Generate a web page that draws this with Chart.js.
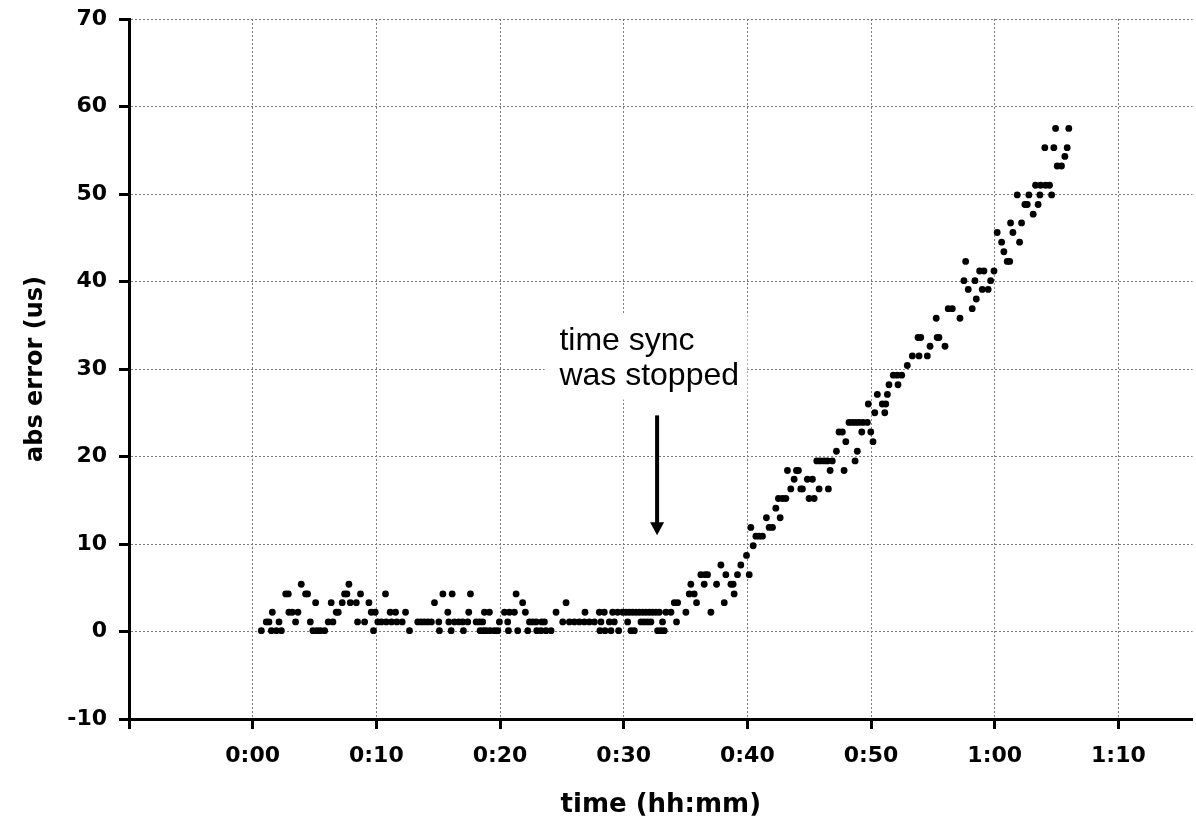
<!DOCTYPE html>
<html>
<head>
<meta charset="utf-8">
<script src="https://cdn.jsdelivr.net/npm/chart.js@4/dist/chart.umd.min.js"></script>
<style>
  html, body { margin: 0; padding: 0; background: #ffffff; }
  #wrap { width: 1196px; height: 821px; }
</style>
</head>
<body>
<div id="wrap"><canvas id="c" width="1196" height="821"></canvas></div>
<script>
// time since start, in minutes
const times = [
  0.70, 1.10, 1.32, 1.51, 1.59, 1.91, 2.13, 2.32, 2.67, 2.88, 2.93, 3.20, 3.47, 3.66, 3.93, 4.28, 4.44, 4.66, 4.87, 5.09,
  5.20, 5.47, 5.82, 6.11, 6.35, 6.49, 6.76, 6.92, 7.24, 7.43, 7.62, 7.78, 7.89, 8.38, 8.48, 8.72, 9.05, 9.40, 9.59, 9.77,
  9.91, 10.12, 10.40, 10.74, 10.80, 11.12, 11.23, 11.55, 11.66, 12.09, 12.36, 12.68, 13.35, 13.62, 13.89, 14.16,
  14.45, 14.70, 15.05, 15.10, 15.38, 15.78, 15.86, 16.05, 16.13, 16.32, 16.67, 16.99, 17.04, 17.39, 17.47, 17.61,
  18.07, 18.34, 18.39, 18.60, 18.66, 18.74, 18.88, 19.14, 19.20, 19.55, 19.82, 19.95, 20.36, 20.62, 20.68, 20.76,
  21.16, 21.30, 21.43, 21.83, 22.05, 22.24, 22.38, 22.64, 22.92, 22.97, 23.32, 23.37, 23.59, 23.72, 24.13, 24.53,
  25.07, 25.34, 25.61, 26.01, 26.41, 26.82, 26.87, 27.22, 27.63, 28.03, 28.08, 28.16, 28.43, 28.49, 28.84, 28.97,
  29.11, 29.24, 29.51,
  29.59, 29.91, 30.18, 30.32, 30.45, 30.59, 30.72, 30.86, 30.99, 31.26, 31.40, 31.53, 31.66, 31.80, 31.93, 32.07,
  32.20, 32.34, 32.61, 32.74, 32.88, 33.01, 33.14, 33.28, 33.41, 33.82, 34.09, 34.27, 34.36, 35.03, 35.30, 35.43,
  35.70, 35.89, 36.24, 36.51, 36.59, 36.78, 37.05, 37.51, 37.86, 38.13, 38.26, 38.67, 38.85, 38.93, 39.20, 39.47,
  39.93, 40.15, 40.28, 40.47, 40.69, 40.95, 41.22, 41.54,
  41.76, 42.03, 42.30, 42.51, 42.65, 42.84, 43.11, 43.24, 43.51, 43.78, 43.97, 44.13, 44.32, 44.45, 44.85, 44.99,
  45.26, 45.40, 45.61, 45.80, 45.88, 46.20, 46.47, 46.55, 46.69, 46.87, 47.20, 47.41, 47.68, 47.82, 47.96, 48.22,
  48.49, 48.71, 48.76, 48.89, 49.03, 49.25, 49.35, 49.70, 49.78, 49.98, 50.16, 50.30, 50.51, 50.91, 51.11, 51.19, 51.32,
  51.45, 51.80, 52.12, 52.18, 52.48, 52.93, 53.34, 53.80, 53.88, 54.02, 54.55, 54.77, 55.27, 55.35, 55.49, 55.98,
  56.24, 56.57, 57.19, 57.51, 57.65, 57.86, 58.18, 58.40, 58.51, 58.78, 58.99, 59.13, 59.47, 59.67, 59.94,
  60.20, 60.56, 60.74, 61.01, 61.21, 61.28, 61.47, 61.82, 62.01, 62.17, 62.44, 62.63, 62.76, 63.11, 63.30, 63.51,
  63.65, 63.71, 64.05, 64.11, 64.43, 64.60, 64.78, 64.92, 65.05, 65.40, 65.67, 65.86, 65.99
];

// absolute error in microseconds
const errors = [
  0.1, 1.1, 1.1, 0.1, 2.2, 0.1, 1.1, 0.1, 4.3, 4.3, 2.2, 2.2, 1.1, 2.2, 5.4, 4.3, 4.3, 1.1, 0.1, 3.3,
  0.1, 0.1, 0.1, 1.1, 3.3, 1.1, 2.2, 2.2, 3.3, 4.3, 4.3, 5.4, 3.3, 3.3, 1.1, 4.3, 1.1, 3.3, 2.2, 0.1,
  2.2, 1.1, 1.1, 4.3, 1.1, 2.2, 1.1, 2.2, 1.1, 1.1, 2.2, 0.1, 1.1, 1.1, 1.1, 1.1,
  1.1, 3.3, 1.1, 0.1, 4.3, 2.2, 1.1, 0.1, 4.3, 1.1, 1.1, 1.1, 0.1, 1.1, 2.2, 4.3,
  1.1, 1.1, 0.1, 1.1, 0.1, 2.2, 0.1, 2.2, 0.1, 0.1, 0.1, 1.1, 2.2, 1.1, 0.1, 2.2,
  2.2, 4.3, 0.1, 3.3, 2.2, 0.1, 1.1, 1.1, 1.1, 0.1, 0.1, 1.1, 1.1, 0.1, 0.1, 2.2,
  1.1, 3.3, 1.1, 1.1, 1.1, 1.1, 2.2, 1.1, 1.1, 2.2, 0.1, 1.1, 2.2, 0.1, 1.1, 0.1,
  2.2, 1.1, 2.2,
  0.1, 2.2, 2.2, 1.1, 2.2, 0.1, 2.2, 0.1, 2.2, 2.2, 1.1, 2.2, 1.1, 2.2, 1.1, 2.2,
  1.1, 2.2, 2.2, 0.1, 2.2, 0.1, 1.1, 0.1, 2.2, 2.2, 3.3, 1.1, 3.3, 2.2, 4.3, 5.4,
  4.3, 3.3, 6.5, 5.4, 6.5, 6.5, 2.2, 5.4, 7.6, 3.3, 6.5, 5.4, 5.4, 4.3, 6.5, 7.6,
  8.7, 6.5, 11.9, 9.8, 10.9, 10.9, 10.9, 13.0,
  11.9, 11.9, 14.1, 15.2, 13.0, 15.2, 15.2, 18.4, 16.3, 17.4, 18.4, 18.4, 16.3, 16.3, 17.4, 15.2,
  17.4, 15.2, 19.5, 16.3, 19.5, 19.5, 19.5, 16.3, 18.4, 19.5, 20.6, 22.8, 22.8, 18.4, 21.7, 23.9,
  23.9, 19.5, 23.9, 20.6, 23.9, 22.8, 23.9, 23.9, 26.0, 22.8, 21.7, 25.0, 27.1, 26.0, 25.0, 26.0, 27.1,
  28.2, 29.3, 29.3, 28.2, 29.3, 30.4, 31.5, 33.6, 31.5, 33.6, 31.5, 32.6, 35.8, 33.6, 33.6, 32.6,
  36.9, 36.9, 35.8, 40.1, 42.3, 39.1, 36.9, 40.1, 38.0, 41.2, 39.1, 41.2, 39.1, 40.1, 41.2,
  45.6, 44.5, 43.4, 42.3, 42.3, 46.7, 45.6, 49.9, 44.5, 46.7, 48.8, 48.8, 49.9, 47.7, 51.0, 48.8,
  49.9, 51.0, 55.3, 51.0, 51.0, 49.9, 55.3, 57.5, 53.2, 53.2, 54.3, 55.3, 57.5
];

// tick values on the axes
const xTickValues = [-10, 0, 10, 20, 30, 40, 50, 60, 70];
const yTickValues = [-10, 0, 10, 20, 30, 40, 50, 60, 70];

const xAxisTitle = 'time (hh:mm)';
const yAxisTitle = 'abs error (us)';
const noteLines = ['time sync', 'was stopped'];

// annotation placement in data units (minutes, us)
const noteBox = { x0: 23.6, x1: 40.0, y0: 26.5, y1: 36.2 };
const noteText = { x: 24.8, y: [32.2, 28.2] };
const noteArrow = { x: 32.7, yFrom: 24.7, yTo: 11.0 };

function fmtTime(v) {
  if (v < 0) return '';
  const h = Math.floor(v / 60);
  const m = Math.round(v - h * 60);
  return h + ':' + (m < 10 ? '0' + m : m);
}

const points = times.map((t, i) => ({ x: t, y: errors[i] }));

const annotationPlugin = {
  id: 'note',
  afterDatasetsDraw(chart) {
    const { ctx, scales } = chart;
    const xs = scales.x, ys = scales.y;
    ctx.save();
    const bx0 = xs.getPixelForValue(noteBox.x0), bx1 = xs.getPixelForValue(noteBox.x1);
    const by0 = ys.getPixelForValue(noteBox.y1), by1 = ys.getPixelForValue(noteBox.y0);
    ctx.fillStyle = '#ffffff';
    ctx.fillRect(bx0, by0, bx1 - bx0, by1 - by0);
    ctx.fillStyle = '#000000';
    ctx.font = '32px "Liberation Sans", Arial, sans-serif';
    ctx.textAlign = 'left';
    ctx.textBaseline = 'alphabetic';
    noteLines.forEach((line, i) => {
      ctx.fillText(line, xs.getPixelForValue(noteText.x), ys.getPixelForValue(noteText.y[i]));
    });
    const ax = xs.getPixelForValue(noteArrow.x);
    const ay0 = ys.getPixelForValue(noteArrow.yFrom);
    const ay1 = ys.getPixelForValue(noteArrow.yTo);
    ctx.strokeStyle = '#000000';
    ctx.lineWidth = 4;
    ctx.beginPath();
    ctx.moveTo(ax, ay0);
    ctx.lineTo(ax, ay1 - 10);
    ctx.stroke();
    ctx.beginPath();
    ctx.moveTo(ax - 7, ay1 - 13);
    ctx.lineTo(ax + 7, ay1 - 13);
    ctx.lineTo(ax, ay1);
    ctx.closePath();
    ctx.fill();
    ctx.restore();
  }
};

const tickFont = { family: '"DejaVu Sans", Verdana, sans-serif', size: 22, weight: 'bold' };

new Chart(document.getElementById('c'), {
  type: 'scatter',
  data: {
    datasets: [{
      data: points,
      pointStyle: 'circle',
      pointRadius: 3.4,
      pointHoverRadius: 3.4,
      pointBackgroundColor: '#000000',
      pointBorderWidth: 0,
      showLine: false
    }]
  },
  options: {
    responsive: false,
    animation: false,
    devicePixelRatio: 1,
    layout: { padding: { top: 19, left: 0, right: 0, bottom: 0 } },
    plugins: { legend: { display: false }, tooltip: { enabled: false } },
    scales: {
      x: {
        type: 'linear',
        position: 'bottom',
        min: -10,
        max: 76,
        afterBuildTicks(scale) { scale.ticks = xTickValues.map(v => ({ value: v })); },
        afterFit(scale) { scale.height = 102; scale.paddingLeft = 0; scale.paddingRight = 0; },
        ticks: {
          callback: (v) => fmtTime(v),
          font: tickFont,
          color: '#000000',
          padding: 14,
          maxRotation: 0,
          autoSkip: false
        },
        grid: {
          color: '#7a7a7a',
          lineWidth: 1,
          drawTicks: true,
          tickLength: 10,
          tickColor: '#000000',
          tickWidth: 3
        },
        border: { display: true, color: '#000000', width: 3, dash: [2, 2] },
        title: {
          display: true,
          text: xAxisTitle,
          color: '#000000',
          font: { family: '"DejaVu Sans", Verdana, sans-serif', size: 26, weight: 'bold' },
          padding: { top: 2, bottom: 0 }
        }
      },
      y: {
        type: 'linear',
        min: -10,
        max: 70,
        afterBuildTicks(scale) { scale.ticks = yTickValues.map(v => ({ value: v })); },
        afterFit(scale) { scale.width = 129; scale.paddingTop = 0; scale.paddingBottom = 0; },
        ticks: {
          font: tickFont,
          color: '#000000',
          padding: 12
        },
        grid: {
          color: '#7a7a7a',
          lineWidth: 1,
          drawTicks: true,
          tickLength: 10,
          tickColor: '#000000',
          tickWidth: 3
        },
        border: { display: true, color: '#000000', width: 3, dash: [2, 2] },
        title: {
          display: true,
          text: yAxisTitle,
          color: '#000000',
          font: { family: '"DejaVu Sans", Verdana, sans-serif', size: 24, weight: 'bold' },
          padding: { top: 21, bottom: 0 }
        }
      }
    }
  },
  plugins: [annotationPlugin]
});
</script>
</body>
</html>
